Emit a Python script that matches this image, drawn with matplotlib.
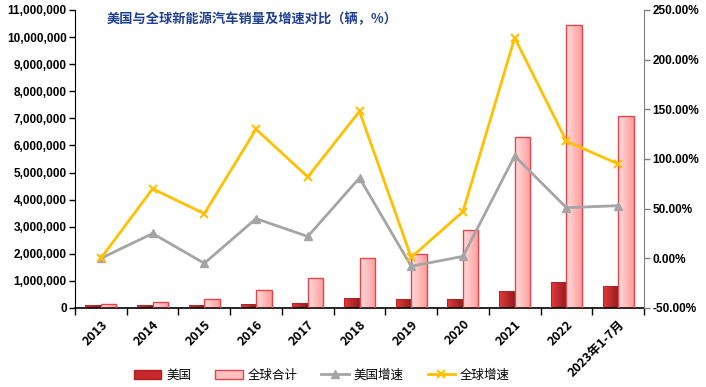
import matplotlib
matplotlib.use("Agg")
import matplotlib.pyplot as plt
import numpy as np
from matplotlib.patches import Patch
from matplotlib.lines import Line2D
from matplotlib.ticker import FuncFormatter, MultipleLocator

plt.rcParams['font.family'] = ['Noto Sans CJK SC', 'DejaVu Sans']

categories = ['2013', '2014', '2015', '2016', '2017', '2018', '2019', '2020', '2021', '2022', '2023年1-7月']
us_sales = [97000, 119000, 114000, 160000, 199000, 361000, 327000, 322000, 631000, 970000, 820000]
global_sales = [150000, 220000, 330000, 660000, 1100000, 1850000, 1990000, 2880000, 6310000, 10450000, 7080000]
us_growth = [0.0, 25.0, -5.0, 40.0, 22.0, 81.0, -8.0, 2.0, 103.0, 51.0, 53.0]
global_growth = [0.0, 70.0, 45.0, 130.0, 82.0, 148.0, 1.0, 47.0, 222.0, 118.0, 95.0]

fig = plt.figure(figsize=(7.06, 3.87), dpi=100)
ax = fig.add_axes([75/706, 1-308/387, (644-75)/706, (308-10)/387])
ax2 = ax.twinx()

x = np.arange(len(categories))
w = 0.3
b1 = ax.bar(x - w/2, us_sales, width=w, color='#D0282C', edgecolor='#B02020', linewidth=0.6, zorder=2)
b2 = ax.bar(x + w/2, global_sales, width=w, color='#FFC0C0', edgecolor='#E0474C', linewidth=1.0, zorder=2)

ax.set_xlim(-0.5, len(categories) - 0.5)
ax.set_ylim(0, 11000000)

def grad(bars, c1, c2):
    cmap = matplotlib.colors.LinearSegmentedColormap.from_list('g', [c1, c2])
    g = np.linspace(0, 1, 64).reshape(1, -1)
    for b in bars:
        bx, by = b.get_x(), b.get_y()
        bw, bh = b.get_width(), b.get_height()
        im = ax.imshow(g, cmap=cmap, extent=[bx, bx + bw, by, by + bh], aspect='auto', zorder=2.5)
        im.set_clip_path(b)
grad(b1, '#E83A3C', '#8E1C1E')
grad(b2, '#FFDCDC', '#FF9C9C')
for b in list(b1) + list(b2):
    b.set_facecolor('none')
    b.set_zorder(3)
ax.set_xlim(-0.5, len(categories) - 0.5)
ax.set_ylim(0, 11000000)

ax2.plot(x, us_growth, color='#A5A5A5', marker='^', markersize=6, linewidth=2, zorder=4)
ax2.plot(x, global_growth, color='#FFC000', marker='x', markersize=6, markeredgewidth=1.5, linewidth=2, zorder=5)
ax2.set_ylim(-50, 250)
ax2.yaxis.set_major_locator(MultipleLocator(50))
ax2.yaxis.set_major_formatter(FuncFormatter(lambda v, p: f'{v:.2f}%'))

ax.yaxis.set_major_locator(MultipleLocator(1000000))
ax.yaxis.set_major_formatter(FuncFormatter(lambda v, p: f'{int(v):,}'))

ax.set_xticks(np.arange(-0.5, len(categories), 1.0))
ax.set_xticklabels([])
ax.set_xticks(x, minor=True)
ax.set_xticklabels(categories, minor=True, rotation=45, ha='right', rotation_mode='anchor',
                   fontsize=9, fontweight='bold')
ax.tick_params(axis='x', which='major', length=5, width=1, direction='out')
ax.tick_params(axis='x', which='minor', length=0, pad=7)
ax.tick_params(axis='y', length=4, width=1, direction='out', labelsize=8.5, pad=2)
for lbl in ax.get_yticklabels():
    lbl.set_fontweight('bold')
    lbl.set_family('Liberation Sans')
ax2.tick_params(axis='y', length=4, width=1, direction='out', labelsize=8.5, color='#808080', pad=2)
for lbl in ax2.get_yticklabels():
    lbl.set_fontweight('bold')
    lbl.set_family('Liberation Sans')

for a in (ax, ax2):
    a.spines['top'].set_visible(False)
ax.spines['left'].set_color('black')
ax.spines['bottom'].set_color('black')
ax.spines['bottom'].set_linewidth(1.2)
ax2.spines['right'].set_color('#808080')
ax2.spines['left'].set_visible(False)
ax2.spines['bottom'].set_visible(False)
ax.spines['right'].set_visible(False)

fig.text(107/706, 1-19/387, '美国与全球新能源汽车销量及增速对比（辆，%）', fontsize=9.5,
         fontweight='bold', color='#1F3F8F', va='center', ha='left')

handles = [
    Patch(facecolor='#C8282C', edgecolor='#B02020'),
    Patch(facecolor='#FFC0C0', edgecolor='#E0474C'),
    Line2D([], [], color='#A5A5A5', marker='^', linewidth=2, markersize=6),
    Line2D([], [], color='#FFC000', marker='x', linewidth=2, markersize=6, markeredgewidth=1.5),
]
labels = ['美国', '全球合计', '美国增速', '全球增速']
fig.legend(handles, labels, loc='center', bbox_to_anchor=(322/706, 1-375/387), ncol=4,
           frameon=False, fontsize=9, columnspacing=1.9, handlelength=2.2, handletextpad=0.4)

fig.savefig('out.png', dpi=100)
